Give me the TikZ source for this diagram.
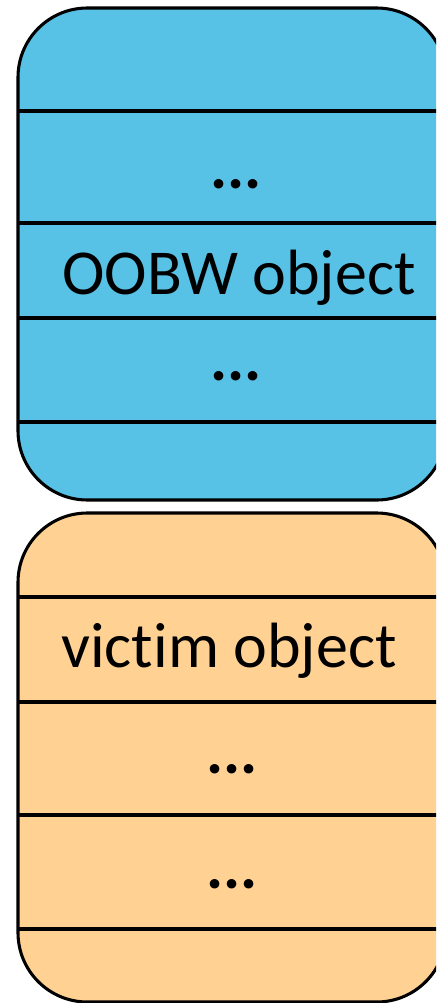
\documentclass[tikz,border=0pt]{standalone}
\usepackage{fontspec}
\setmainfont{Carlito}[Ligatures = NoCommon]
\definecolor{objblue}{RGB}{88,193,230}
\definecolor{objorange}{RGB}{255,210,148}
\tikzset{
	field/.style = {anchor = base, inner sep = 0pt, font = \fontsize{48}{58}\selectfont},
	gap/.style = {field, font = \fontsize{48}{58}\selectfont\bfseries},
	block/.style = {line width = 2.3pt, rounded corners = 52pt}
}
\begin{document}
\begin{tikzpicture} [x = 0.75pt, y = -0.75pt]
	\useasboundingbox (0,0) rectangle (436,1003);
	\clip (0,0) rectangle (436,1003);
	% overflowing heap chunk
	\draw [block, fill = objblue] (18,8) rectangle (446,500);
	\draw [line width = 2.3pt] (18,111) -- (446,111);
	\draw [line width = 2.3pt] (18,223) -- (446,223);
	\draw [line width = 2.3pt] (18,318) -- (446,318);
	\draw [line width = 2.3pt] (18,422) -- (446,422);
	% adjacent chunk
	\draw [block, fill = objorange] (18,513) rectangle (446,1002);
	\draw [line width = 2.3pt] (18,597) -- (446,597);
	\draw [line width = 2.3pt] (18,702) -- (446,702);
	\draw [line width = 2.3pt] (18,815) -- (446,815);
	\draw [line width = 2.3pt] (18,929) -- (446,929);
	% field labels
	\node [gap] (dotsA) at (236,188) {...};
	\node [field] (oobw) at (239,294) {OOBW object};
	\node [gap] (dotsB) at (236,380) {...};
	\node [field] (victim) at (229,667) {victim object};
	\node [gap] (dotsC) at (232,773) {...};
	\node [gap] (dotsD) at (232,888) {...};
\end{tikzpicture}
\end{document}
